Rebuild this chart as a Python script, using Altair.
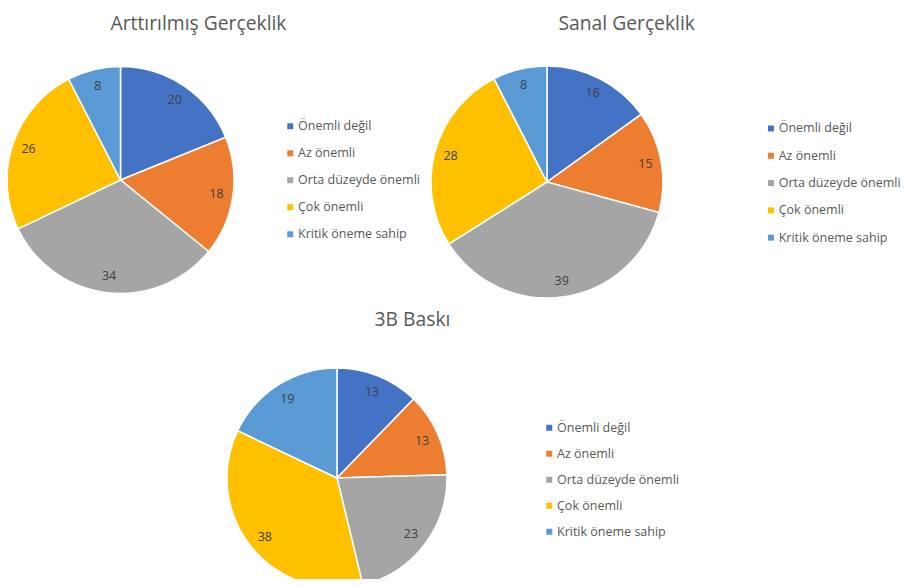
import altair as alt
import pandas as pd

categories = ["Önemli değil", "Az önemli", "Orta düzeyde önemli", "Çok önemli", "Kritik öneme sahip"]
colors = ["#4472C4", "#ED7D31", "#A5A5A5", "#FFC000", "#5B9BD5"]
titles = ["Arttırılmış Gerçeklik", "Sanal Gerçeklik", "3B Baskı"]
ar_values = [20, 18, 34, 26, 8]
vr_values = [16, 15, 39, 28, 8]
bb_values = [13, 13, 23, 38, 19]

FONT = "Open Sans"

# layout: (cx, cy, r, label_r, legendX, legendY, rowPadding, titleX, titleY)
layouts = [
    (112.5, 172, 113.5, 97, 276.0, 112.0, 14.0, 190.5, 21.5),
    (539, 174, 116, 100, 756.7, 114.2, 14.3, 618.7, 21.5),
    (329, 470, 110, 93, 535.0, 413.5, 13.0, 404.5, 317.5),
]


def pie(values, title, lay):
    cx, cy, r, lr, lx, ly, rp, tx, ty = lay
    df = pd.DataFrame({"cat": categories, "val": values, "idx": list(range(len(categories)))})
    base = alt.Chart(df).encode(
        theta=alt.Theta("val:Q", stack=True),
        order=alt.Order("idx:Q"),
    )
    arc = base.mark_arc(outerRadius=r, stroke="white", strokeWidth=1.5).encode(
        color=alt.Color(
            "cat:N",
            sort=categories,
            scale=alt.Scale(domain=categories, range=colors),
            legend=alt.Legend(
                title=None,
                orient="none",
                legendX=lx,
                legendY=ly,
                symbolType="square",
                symbolSize=36,
                symbolStrokeWidth=0,
                labelFont=FONT,
                labelFontSize=12.5,
                labelColor="#595959",
                labelOffset=1.5,
                rowPadding=rp,
                padding=0,
            ),
        ),
        x=alt.value(cx),
        y=alt.value(cy),
    )
    text = base.mark_text(radius=lr, font=FONT, fontSize=12.5, color="#404040").encode(
        text="val:Q", x=alt.value(cx), y=alt.value(cy)
    )
    tdf = pd.DataFrame({"t": [title]})
    ttl = alt.Chart(tdf).mark_text(font=FONT, fontSize=19.3, color="#595959", baseline="alphabetic", align="center").encode(
        text="t:N", x=alt.value(tx), y=alt.value(ty)
    )
    return alt.layer(arc, text, ttl)


chart = alt.layer(
    pie(ar_values, titles[0], layouts[0]),
    pie(vr_values, titles[1], layouts[1]),
    pie(bb_values, titles[2], layouts[2]),
).resolve_scale(theta="independent", color="independent").properties(
    width=894, height=571, autosize=alt.AutoSizeParams(type="none"), padding=0, background="white"
).configure_view(stroke=None)

chart.save("out.html", embed_options={"renderer": "svg", "actions": False})
